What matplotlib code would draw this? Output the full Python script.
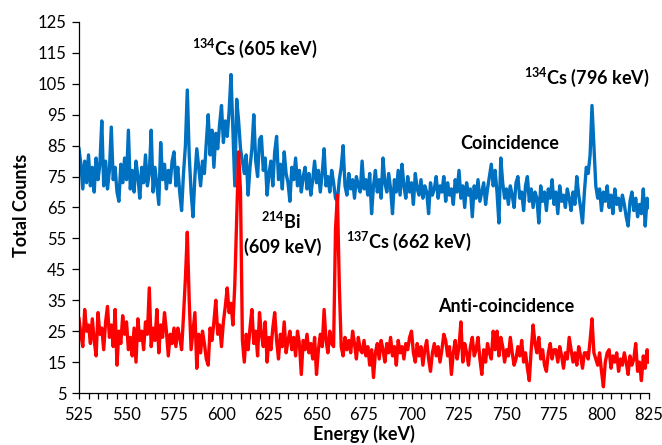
import numpy as np
import matplotlib
matplotlib.use("Agg")
import matplotlib.pyplot as plt
from matplotlib.ticker import MultipleLocator, FixedLocator

plt.rcParams['font.family'] = ['Lato', 'DejaVu Sans']
plt.rcParams['mathtext.default'] = 'regular'

energy_start = 525  # keV, 1 keV channels

coincidence = [
    84, 79, 71, 80, 73, 82, 72, 78, 70, 81,
    74, 79, 93, 72, 80, 71, 77, 91, 74, 78,
    70, 67, 79, 73, 81, 74, 90, 71, 77, 70,
    80, 75, 68, 78, 73, 82, 72, 76, 90, 70,
    78, 72, 66, 86, 74, 79, 71, 77, 73, 80,
    83, 72, 78, 70, 64, 76, 85, 103, 82, 70,
    62, 75, 84, 78, 72, 80, 76, 86, 95, 82,
    90, 78, 89, 84, 92, 98, 86, 93, 88, 96,
    108, 90, 72, 100, 93, 84, 80, 76, 82, 69,
    78, 84, 95, 80, 75, 87, 88, 77, 81, 69,
    76, 80, 72, 83, 88, 74, 79, 71, 83, 76,
    73, 67, 78, 74, 81, 72, 77, 70, 75, 78,
    71, 76, 69, 74, 80, 73, 77, 70, 76, 84,
    72, 75, 70, 77, 73, 68, 67, 74, 78, 85,
    72, 69, 76, 71, 74, 68, 75, 72, 70, 80,
    71, 74, 69, 76, 63, 72, 77, 70, 74, 68,
    81, 73, 70, 76, 71, 63, 74, 70, 77, 69,
    79, 72, 68, 75, 70, 73, 66, 76, 71, 69,
    74, 68, 72, 70, 63, 73, 69, 71, 75, 68,
    72, 70, 75, 67, 73, 69, 71, 66, 74, 70,
    77, 68, 72, 65, 73, 69, 71, 62, 72, 68,
    74, 67, 70, 73, 66, 71, 75, 79, 72, 77,
    70, 60, 81, 73, 68, 71, 66, 72, 69, 65,
    73, 75, 68, 70, 64, 72, 75, 67, 71, 65,
    70, 68, 60, 72, 67, 70, 64, 71, 68, 74,
    66, 70, 63, 72, 67, 69, 65, 71, 68, 64,
    70, 66, 75, 69, 65, 60, 70, 78, 76, 82,
    98, 85, 72, 68, 71, 64, 70, 67, 72, 65,
    69, 63, 71, 66, 68, 64, 69, 66, 62, 59,
    67, 70, 64, 68, 62, 66, 63, 71, 59, 68,
    65,
]

anti_coincidence = [
    29, 24, 20, 32, 25, 27, 21, 29, 22, 17,
    31, 24, 26, 19, 28, 33, 23, 27, 20, 32,
    14, 25, 21, 30, 24, 28, 19, 23, 17, 26,
    15, 29, 22, 25, 19, 28, 24, 39, 20, 26,
    22, 32, 18, 27, 23, 31, 25, 17, 24, 21,
    26, 20, 26, 23, 19, 30, 42, 57, 35, 19,
    25, 31, 13, 24, 18, 25, 21, 16, 14, 26,
    22, 28, 35, 24, 27, 20, 28, 33, 39, 31,
    34, 27, 40, 61, 83, 70, 22, 15, 24, 19,
    26, 32, 21, 25, 17, 31, 24, 20, 28, 15,
    23, 19, 26, 31, 22, 16, 24, 20, 28, 18,
    22, 25, 19, 23, 17, 25, 21, 11, 22, 19,
    24, 18, 21, 16, 23, 11, 19, 24, 20, 32,
    22, 18, 25, 21, 20, 58, 69, 40, 20, 17,
    23, 19, 22, 18, 25, 21, 16, 23, 19, 18,
    22, 17, 20, 14, 19, 10, 18, 21, 16, 22,
    19, 15, 21, 18, 23, 17, 20, 14, 22, 18,
    20, 16, 21, 19, 23, 25, 18, 15, 21, 17,
    20, 14, 19, 22, 16, 12, 18, 21, 17, 20,
    15, 19, 24, 22, 17, 20, 11, 18, 22, 16,
    20, 28, 15, 21, 18, 14, 20, 23, 17, 19,
    23, 16, 11, 19, 15, 21, 18, 16, 25, 19,
    25, 17, 23, 20, 15, 19, 17, 23, 18, 14,
    16, 20, 17, 22, 15, 18, 13, 9, 19, 27,
    21, 18, 23, 16, 19, 14, 12, 18, 21, 16,
    19, 19, 15, 20, 17, 13, 18, 16, 23, 19,
    15, 18, 14, 20, 17, 13, 18, 18, 16, 22,
    29, 18, 16, 14, 18, 12, 7, 15, 18, 19,
    13, 17, 15, 18, 12, 16, 14, 18, 15, 11,
    17, 14, 16, 21, 12, 15, 9, 17, 13, 19,
    15,
]

y_ticks = [5, 15, 25, 35, 45, 55, 65, 75, 85, 95, 105, 115, 125]

annotations = [
    ("$^{134}$Cs (605 keV)", 617.6, 116.6),
    ("$^{134}$Cs (796 keV)", 792.4, 107.2),
    ("Coincidence", 751.8, 85.8),
    ("$^{214}$Bi", 631.3, 60.6),
    ("(609 keV)", 632.4, 52.2),
    ("$^{137}$Cs (662 keV)", 698.7, 54.1),
    ("Anti-coincidence", 749.7, 33.0),
]

x_blue = energy_start + np.arange(len(coincidence))
x_red = energy_start + np.arange(len(anti_coincidence))

fig = plt.figure(figsize=(6.62, 4.45), dpi=100)
ax = fig.add_axes([79 / 662, 1 - 393 / 445, 570 / 662, 371 / 445])

ax.plot(x_blue, coincidence, color='#0070C0', lw=2.4, solid_joinstyle='round')
ax.plot(x_red, anti_coincidence, color='#FF0000', lw=2.4, solid_joinstyle='round')

ax.set_xlim(525, 825)
ax.set_ylim(5, 125)
ax.xaxis.set_major_locator(MultipleLocator(25))
ax.xaxis.set_minor_locator(MultipleLocator(5))
ax.yaxis.set_major_locator(FixedLocator(y_ticks))

for s in ['top', 'right']:
    ax.spines[s].set_visible(False)
for s in ['left', 'bottom']:
    ax.spines[s].set_color('#000000')
    ax.spines[s].set_linewidth(0.9)

ax.tick_params(axis='x', which='both', direction='out', length=4, width=0.9,
               labelsize=12, pad=6)
ax.tick_params(axis='y', which='major', direction='out', length=5, width=0.9,
               labelsize=12, pad=4)

for text, x, y in annotations:
    ax.text(x, y, text, ha='center', va='center', fontsize=13,
            fontweight='bold')

fig.text(22 / 662, 1 - 205 / 445, 'Total Counts', rotation=90, ha='center',
         va='center', fontsize=13, fontweight='bold')
fig.text(364 / 662, 2 / 445, 'Energy (keV)', ha='center', va='bottom',
         fontsize=13, fontweight='bold')

fig.savefig('out.png', dpi=100)
